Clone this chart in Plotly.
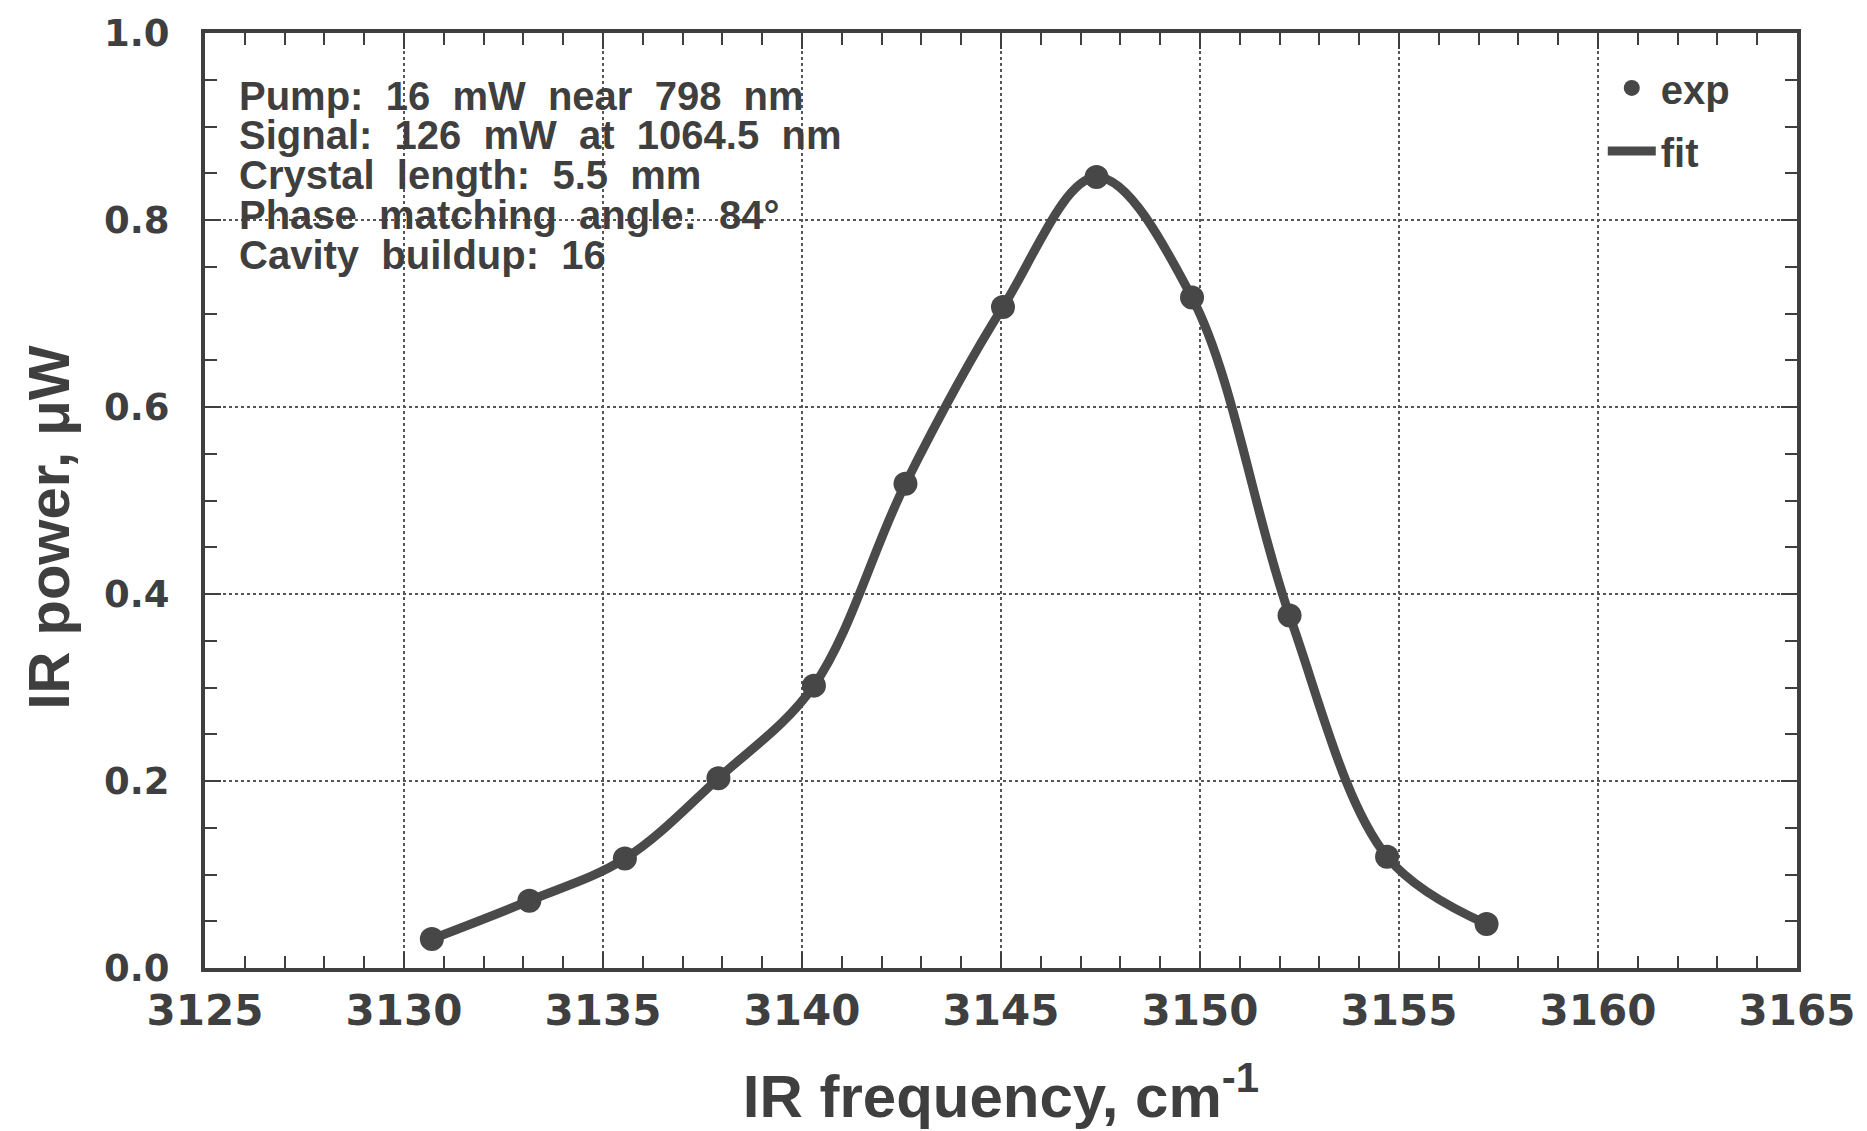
import plotly.graph_objects as go

# ---- data ----
freq = [3130.7, 3133.15, 3135.55, 3137.9, 3140.3, 3142.6,
        3145.05, 3147.4, 3149.8, 3152.25, 3154.7, 3157.2]
power_exp = [0.031, 0.072, 0.117, 0.203, 0.302, 0.518,
             0.707, 0.846, 0.717, 0.377, 0.119, 0.047]
power_fit = [0.031, 0.072, 0.117, 0.203, 0.302, 0.518,
             0.707, 0.846, 0.717, 0.377, 0.119, 0.047]

x_tick_vals = [3125, 3130, 3135, 3140, 3145, 3150, 3155, 3160, 3165]
x_tick_text = ["3125", "3130", "3135", "3140", "3145", "3150", "3155", "3160", "3165"]
y_tick_vals = [0.0, 0.2, 0.4, 0.6, 0.8, 1.0]
y_tick_text = ["0.0", "0.2", "0.4", "0.6", "0.8", "1.0"]

x_title = "IR frequency, cm<sup>-1</sup>"
y_title = "IR power, μW"

info_lines = [
    "Pump: 16 mW near 798 nm",
    "Signal: 126 mW at 1064.5 nm",
    "Crystal length: 5.5 mm",
    "Phase matching angle: 84°",
    "Cavity buildup: 16",
]

INK = "#3f3f3f"
GRID = "#555555"
NB = "\u00a0"

fig = go.Figure()

fig.add_trace(go.Scatter(
    x=freq, y=power_fit, mode="lines", name="fit",
    line=dict(color="#4a4a4a", width=9, shape="spline", smoothing=1.0),
    legendgroup="fit", legendrank=2,
))
fig.add_trace(go.Scatter(
    x=freq, y=power_exp, mode="markers", name="exp",
    marker=dict(color="#474747", size=24, symbol="circle"),
    legendgroup="exp", legendrank=1,
))

fig.update_xaxes(
    range=[3125, 3165],
    tickmode="array", tickvals=x_tick_vals, ticktext=x_tick_text,
    tickfont=dict(family="DejaVu Sans", size=42, color=INK, weight="bold"),
    ticks="inside", ticklen=16, tickwidth=2, tickcolor=INK,
    minor=dict(dtick=1, ticks="inside", ticklen=12, tickwidth=2, tickcolor=INK, showgrid=False),
    showline=True, linewidth=4, linecolor=INK, mirror="allticks",
    showgrid=True, gridcolor=GRID, gridwidth=2, griddash="dot",
    zeroline=False, ticklabelstandoff=3,
    title=dict(text=NB + NB + x_title,
               font=dict(family="Liberation Sans", size=60, color=INK, weight="bold"),
               standoff=42),
)
fig.update_yaxes(
    range=[0, 1.0],
    tickmode="array", tickvals=y_tick_vals, ticktext=y_tick_text,
    tickfont=dict(family="DejaVu Sans", size=37, color=INK, weight="bold"),
    ticks="inside", ticklen=16, tickwidth=2, tickcolor=INK,
    minor=dict(dtick=0.05, ticks="inside", ticklen=12, tickwidth=2, tickcolor=INK, showgrid=False),
    showline=True, linewidth=4, linecolor=INK, mirror="allticks",
    showgrid=True, gridcolor=GRID, gridwidth=2, griddash="dot",
    zeroline=False, ticklabelstandoff=24,
)

# y-axis title (placed as a rotated annotation: it sits slightly below centre)
fig.add_annotation(
    x=-0.098, y=0.471, xref="paper", yref="paper",
    xanchor="center", yanchor="middle", showarrow=False, textangle=-90,
    text=y_title,
    font=dict(family="Liberation Sans", size=58, color=INK, weight="bold"),
)

# info text block (one annotation per line to keep tight line spacing)
line_top = 0.933
line_step = 0.0425
for i, txt in enumerate(info_lines):
    fig.add_annotation(
        x=3125.8, y=line_top - i * line_step, xref="x", yref="paper",
        xanchor="left", yanchor="middle", showarrow=False,
        text=txt.replace(" ", NB + NB),
        font=dict(family="Liberation Sans", size=40, color=INK, weight="bold"),
    )

fig.update_layout(
    width=1867, height=1131,
    margin=dict(l=205, r=69, t=24, b=162),
    paper_bgcolor="white", plot_bgcolor="white",
    showlegend=True,
    legend=dict(
        x=0.878, y=0.976, xanchor="left", yanchor="top",
        bgcolor="rgba(255,255,255,0)", borderwidth=0,
        font=dict(family="Liberation Sans", size=40, color=INK, weight="bold"),
        traceorder="grouped", tracegroupgap=8, itemwidth=48,
    ),
)

fig.write_html("out.html")
